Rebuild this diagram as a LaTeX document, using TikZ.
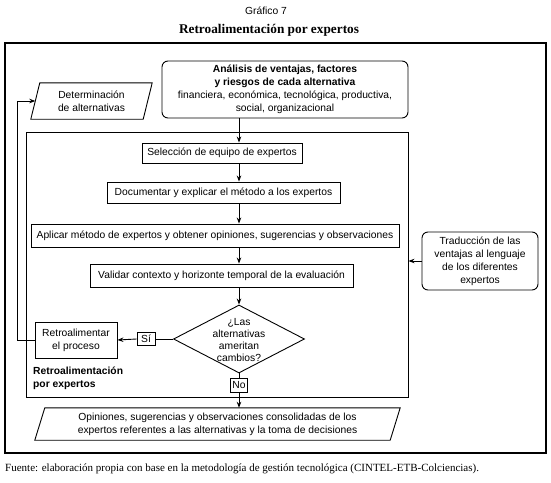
\documentclass[tikz,border=0pt]{standalone}
\usepackage{fontspec}
\setmainfont{Liberation Sans}
\newfontfamily\serifrm{Liberation Serif}
\usetikzlibrary{shapes.geometric,arrows.meta}
\begin{document}
\begin{tikzpicture}[x=1pt,y=-1pt,
  txt/.style={inner sep=0pt, align=center, font=\fontsize{10.3}{13}\selectfont},
  box/.style={txt, draw, line width=0.9pt},
  rbox/.style={box, rounded corners=6pt},
  arr/.style={line width=0.9pt, -{Stealth[length=6pt,width=4.5pt]}},
  ln/.style={line width=0.9pt}]
\useasboundingbox (0,0) rectangle (551,482);
% headings
\node[txt] (gr) at (266,11) {Gráfico 7};
\node[inner sep=0pt, font=\serifrm\bfseries\fontsize{13.3}{15}\selectfont] (title) at (269,30) {Retroalimentación por expertos};
% outer frame
\draw[line width=2.2pt] (5,43) rectangle (546,453);
% inner group
\node[draw, line width=0.9pt, inner sep=0pt, minimum width=382pt, minimum height=265pt] (grp) at (217,264.5) {};
% top nodes
\node[rbox, minimum width=246pt, minimum height=57pt] (ana) at (285,89.5)
  {\textbf{Análisis de ventajas, factores}\\\textbf{y riesgos de cada alternativa}\\financiera, económica, tecnológica, productiva,\\social, organizacional};
\node[txt, minimum width=112pt, minimum height=36pt] (det) at (91.5,101) {Determinación\\de alternativas};
\draw[ln] ([xshift=-4.5pt]det.south west) -- ([xshift=4.5pt]det.north west) -- ([xshift=4.5pt]det.north east) -- ([xshift=-4.5pt]det.south east) -- cycle;
% steps
\node[box, minimum width=160pt, minimum height=20pt] (sel) at (222,153) {Selección de equipo de expertos};
\node[box, minimum width=233pt, minimum height=21pt] (doc) at (223.5,192.5) {Documentar y explicar el método a los expertos};
\node[box, minimum width=368pt, minimum height=23pt] (apl) at (215,235.5) {Aplicar método de expertos y obtener opiniones, sugerencias y observaciones};
\node[box, minimum width=263pt, minimum height=23pt] (val) at (221.5,275.5) {Validar contexto y horizonte temporal de la evaluación};
% decision
\node[diamond, draw, line width=0.9pt, inner sep=0pt, minimum width=131pt, minimum height=68pt] (dia) at (239,339) {};
\node[txt, font=\fontsize{10.3}{11.7}\selectfont] (diat) at (239,340) {¿Las\\alternativas\\ameritan\\cambios?};
\node[box, minimum width=18pt, minimum height=13pt] (si) at (146,339) {Sí};
\node[box, minimum width=82pt, minimum height=36pt] (retro) at (76,340) {Retroalimentar\\el proceso};
\node[txt, anchor=west, align=left, font=\bfseries\fontsize{10.3}{13}\selectfont] (glab) at (33,378.5) {Retroalimentación\\por expertos};
\node[box, minimum width=17pt, minimum height=14pt] (no) at (239,385) {No};
% output
\node[txt, minimum width=355pt, minimum height=32pt] (out) at (217.5,424) {Opiniones, sugerencias y observaciones consolidadas de los\\expertos referentes a las alternativas y la toma de decisiones};
\draw[ln] ([xshift=-5pt]out.south west) -- ([xshift=5pt]out.north west) -- ([xshift=5pt]out.north east) -- ([xshift=-5pt]out.south east) -- cycle;
% translation
\node[rbox, minimum width=116pt, minimum height=58pt] (trad) at (480,261) {Traducción de las\\ventajas al lenguaje\\de los diferentes\\expertos};
% source
\node[inner sep=0pt, anchor=west, font=\serifrm\fontsize{11}{12}\selectfont] (src) at (5,469) {Fuente: elaboración propia con base en la metodología de gestión tecnológica (CINTEL-ETB-Colciencias).};
% connectors
\coordinate (fb) at (17,0);
\draw[arr] (ana.south -| dia.north) -- (sel.north -| dia.north);
\draw[arr] (sel.south -| dia.north) -- (doc.north -| dia.north);
\draw[arr] (doc.south -| dia.north) -- (apl.north -| dia.north);
\draw[arr] (apl.south -| dia.north) -- (val.north -| dia.north);
\draw[arr] (val.south -| dia.north) -- (dia.north);
\draw[ln] (dia.west) -- (si.east);
\draw[arr] (si.west) -- (retro.east);
\draw[ln] (dia.south) -- (no.north);
\draw[arr] (no.south) -- (no.south |- out.north);
\draw[arr] (retro.west) -- (retro.west -| fb) |- (det.west);
\draw[arr] (trad.west) -- (trad.west -| grp.east);
\end{tikzpicture}
\end{document}
